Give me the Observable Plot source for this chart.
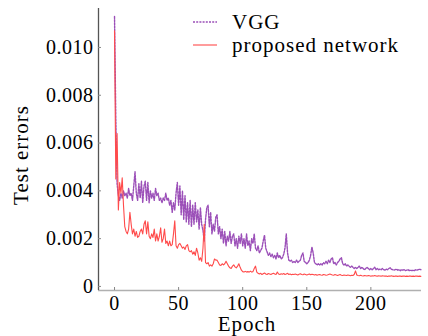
<!DOCTYPE html>
<html><head><meta charset="utf-8">
<script src="https://cdn.jsdelivr.net/npm/d3@7"></script>
<script src="https://cdn.jsdelivr.net/npm/@observablehq/plot@0.6"></script>
<style>
body{margin:0;background:#fff;}
#wrap{position:relative;width:428px;height:336px;font-family:"Liberation Serif",serif;color:#000;}
#wrap svg{display:block;}
#wrap svg text{font-family:"Liberation Serif",serif;}
.lbl{position:absolute;font-size:21px;line-height:22px;white-space:nowrap;letter-spacing:1px;}
</style></head><body><div id="wrap"></div>
<script>
// Test error (x 1e-3) per epoch 0..239
const vgg = [
11.3, 7.0, 4.3, 3.8, 3.6, 3.9, 3.7, 4.0, 3.8, 3.9,
3.7, 4.1, 3.8, 3.9, 3.6, 4.2, 4.8, 3.9, 3.6, 4.3,
3.7, 4.4, 3.5, 4.2, 4.4, 3.6, 4.35, 3.5, 4.0, 3.7,
3.9, 3.6, 4.1, 3.8, 3.9, 3.6, 3.7, 3.5, 3.7, 3.6,
3.9, 3.6, 3.7, 3.4, 3.6, 3.1, 3.5, 3.2, 3.9, 4.35,
3.4, 4.2, 3.0, 4.0, 2.8, 3.8, 2.7, 3.5, 2.6, 3.6,
2.5, 3.4, 2.6, 3.5, 2.7, 3.2, 2.4, 3.3, 2.6, 2.35,
1.9, 2.8, 3.3, 3.4, 2.5, 3.1, 2.2, 2.6, 2.3, 2.9,
3.0, 2.2, 2.5, 2.0, 2.4, 1.8, 2.3, 1.7, 2.1, 1.9,
2.3, 1.8, 2.1, 2.2, 1.7, 2.0, 1.6, 2.1, 1.8, 2.2,
1.7, 2.0, 1.6, 2.2, 1.7, 1.9, 1.5, 2.0, 1.8, 2.2,
1.6, 1.5, 1.7, 1.4, 1.5, 1.6, 1.9, 2.15, 1.6, 1.45,
1.3, 1.4, 1.25, 1.35, 1.2, 1.3, 1.15, 1.4, 1.2, 1.3,
1.15, 1.2, 1.35, 1.6, 2.2, 1.4, 1.1, 1.05, 1.1, 1.0,
1.05, 1.0, 1.1, 1.0, 1.05, 1.1, 1.3, 1.4, 1.05, 1.0,
0.95, 1.0, 1.1, 1.3, 1.65, 1.4, 1.0, 0.95, 0.9, 0.95,
0.9, 0.95, 0.9, 1.0, 0.95, 1.05, 0.95, 1.1, 1.0, 1.15,
1.2, 0.95, 1.0, 0.9, 1.0, 1.05, 1.15, 1.2, 0.95, 0.9,
0.95, 0.85, 0.9, 0.85, 0.8, 0.85, 0.8, 0.75, 0.8, 0.75,
0.8, 0.85, 0.75, 0.8, 0.75, 0.7, 0.75, 0.8, 0.75, 0.7,
0.75, 0.7, 0.75, 0.8, 0.7, 0.75, 0.7, 0.72, 0.7, 0.75,
0.7, 0.68, 0.72, 0.7, 0.75, 0.78, 0.72, 0.7, 0.68, 0.7,
0.72, 0.68, 0.7, 0.66, 0.7, 0.68, 0.7, 0.66, 0.68, 0.7,
0.66, 0.68, 0.66, 0.68, 0.66, 0.7, 0.68, 0.7, 0.72, 0.7
];
const proposed = [
10.7, 4.5, 6.4, 3.2, 4.35, 3.9, 4.55, 3.4, 2.5, 2.3,
2.2, 2.4, 3.1, 2.6, 2.2, 2.4, 2.1, 2.3, 2.05, 2.1,
2.3, 2.4, 2.2, 2.6, 2.75, 2.2, 2.7, 2.1, 2.0, 2.2,
2.05, 2.4, 1.9, 2.2, 1.9, 2.1, 2.45, 1.85, 2.0, 2.4,
1.8, 1.9, 1.7, 1.9, 1.7, 1.75, 2.2, 2.75, 1.7, 1.6,
1.75, 1.8, 1.7, 1.6, 1.65, 1.55, 1.7, 1.75, 1.5, 1.45,
1.5, 1.35, 1.45, 1.3, 1.6, 1.4, 1.1, 1.2, 1.05, 1.6,
2.6, 1.0, 0.95, 1.0, 0.85, 0.9, 0.85, 0.95, 1.15, 1.1,
1.1, 1.0, 0.9, 0.88, 0.95, 0.9, 0.95, 1.05, 0.95, 0.85,
0.78, 0.75, 0.85, 0.9, 0.82, 0.78, 0.85, 0.95, 0.8, 0.68,
0.62, 0.6, 0.63, 0.6, 0.62, 0.6, 0.64, 0.6, 0.62, 0.75,
0.85, 0.6, 0.55, 0.52, 0.55, 0.5, 0.53, 0.56, 0.52, 0.5,
0.54, 0.52, 0.5, 0.53, 0.55, 0.52, 0.5, 0.6, 0.52, 0.5,
0.53, 0.51, 0.54, 0.5, 0.52, 0.55, 0.5, 0.52, 0.49, 0.51,
0.5, 0.52, 0.5, 0.48, 0.51, 0.53, 0.5, 0.49, 0.52, 0.5,
0.48, 0.5, 0.52, 0.49, 0.51, 0.5, 0.48, 0.5, 0.47, 0.49,
0.5, 0.48, 0.47, 0.5, 0.49, 0.47, 0.48, 0.5, 0.52, 0.5,
0.48, 0.47, 0.5, 0.48, 0.46, 0.48, 0.5, 0.47, 0.46, 0.48,
0.47, 0.46, 0.48, 0.47, 0.45, 0.47, 0.46, 0.5, 0.65, 0.48,
0.46, 0.45, 0.47, 0.45, 0.44, 0.46, 0.45, 0.44, 0.46, 0.45,
0.43, 0.45, 0.44, 0.46, 0.44, 0.43, 0.45, 0.44, 0.43, 0.45,
0.44, 0.43, 0.44, 0.42, 0.44, 0.43, 0.45, 0.43, 0.42, 0.44,
0.43, 0.42, 0.44, 0.43, 0.42, 0.43, 0.44, 0.42, 0.43, 0.42,
0.44, 0.43, 0.42, 0.43, 0.42, 0.44, 0.43, 0.42, 0.43, 0.42
];
const seriesNames = ["VGG", "proposed network"];
const seriesColors = ["#9b4fb8", "#ff4b4b"];
const xTicks = [0, 50, 100, 150, 200];
const yTicks = [0, 0.002, 0.004, 0.006, 0.008, 0.010];
const yTickLabels = ["0", "0.002", "0.004", "0.006", "0.008", "0.010"];
const xLabel = "Epoch";
const yLabel = "Test errors";

const xDomain = [-12.5, 239.5];
const yDomain = [-0.00017, 0.01163];

const rowsV = vgg.map((v, i) => ({epoch: i, value: v / 1000}));
const rowsP = proposed.map((v, i) => ({epoch: i, value: v / 1000}));

const serif = "Liberation Serif";
const plot = Plot.plot({
  width: 428, height: 336,
  marginLeft: 98, marginRight: 7, marginTop: 8, marginBottom: 46,
  style: {fontFamily: "'Liberation Serif', serif", fontSize: "20px", background: "transparent", color: "#000", letterSpacing: "0.5px"},
  x: {domain: xDomain},
  y: {domain: yDomain},
  marks: [
    Plot.ruleY([yDomain[0]], {stroke: "#b0b0b0", strokeWidth: 1.5}),
    Plot.ruleX([xDomain[0]], {stroke: "#555", strokeWidth: 1.3}),
    Plot.axisY(yTicks, {tickSize: 0, tickPadding: 5, label: null, fontSize: 20, fontFamily: serif, fill: "#000",
      tickFormat: d => yTickLabels[yTicks.indexOf(d)]}),
    Plot.axisY(yTicks, {text: null, tickSize: 3, dx: 3, label: null, stroke: "#888"}),
    Plot.axisX(xTicks, {tickSize: 0, tickPadding: 5, label: null, fontSize: 20, fontFamily: serif, fill: "#000"}),
    Plot.axisX(xTicks, {text: null, tickSize: 3, dy: -3, label: null, stroke: "#888"}),
    Plot.line(rowsV, {x: "epoch", y: "value", stroke: seriesColors[0], strokeWidth: 1.4, strokeDasharray: "2,1.2"}),
    Plot.line(rowsP, {x: "epoch", y: "value", stroke: seriesColors[1], strokeWidth: 1.1})
  ]
});
const wrap = document.getElementById("wrap");
wrap.appendChild(plot);

function addLabel(text, css) {
  const d = document.createElement("div");
  d.className = "lbl";
  d.textContent = text;
  Object.assign(d.style, css);
  wrap.appendChild(d);
  return d;
}
addLabel(xLabel, {left: "187px", top: "313px", width: "120px", textAlign: "center"});
addLabel(yLabel, {left: "-39px", top: "144px", width: "120px", textAlign: "center", transform: "rotate(-90deg)", transformOrigin: "50% 50%"});

// legend
const ns = "http://www.w3.org/2000/svg";
const lg = document.createElementNS(ns, "svg");
lg.setAttribute("width", 428); lg.setAttribute("height", 336);
lg.style.position = "absolute"; lg.style.left = "0"; lg.style.top = "0";
const legY = [22, 45];
seriesNames.forEach((name, i) => {
  const l = document.createElementNS(ns, "line");
  l.setAttribute("x1", 193); l.setAttribute("x2", 217);
  l.setAttribute("y1", legY[i]); l.setAttribute("y2", legY[i]);
  l.setAttribute("stroke", seriesColors[i]);
  l.setAttribute("stroke-width", i === 0 ? 1.4 : 1.1);
  if (i === 0) l.setAttribute("stroke-dasharray", "2,1.2");
  lg.appendChild(l);
  addLabel(name, {left: "232px", top: (legY[i] - 11) + "px"});
});
wrap.appendChild(lg);
</script>
</body></html>
